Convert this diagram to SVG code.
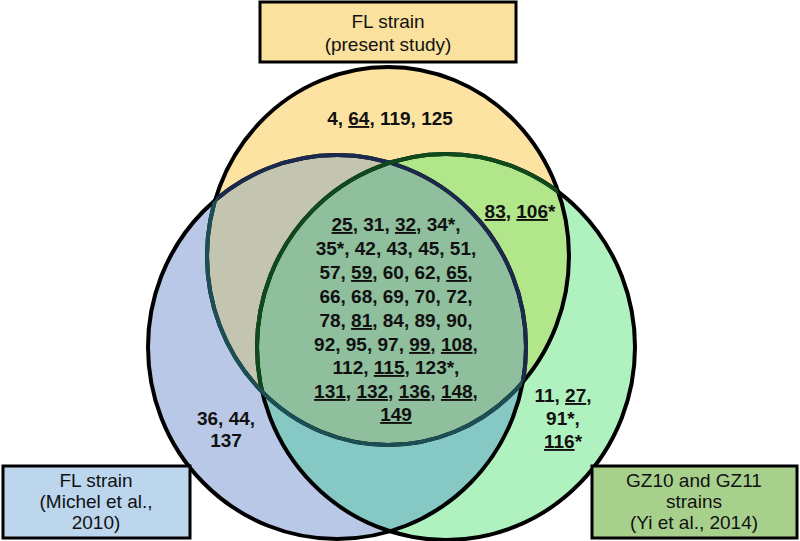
<svg xmlns="http://www.w3.org/2000/svg" width="800" height="541" viewBox="0 0 800 541">
<style>
.n{font-family:"Liberation Sans",Arial,sans-serif;font-weight:bold;font-size:19px;fill:#111;text-anchor:middle}
.l{font-family:"Liberation Sans",Arial,sans-serif;font-size:19px;fill:#111;text-anchor:middle}
.u{text-decoration:underline}
.o{fill:none;stroke:#000;stroke-width:4}
.b{stroke:#000;stroke-width:3}
</style>
<defs>
<ellipse id="eT" cx="388" cy="256" rx="181" ry="189"/>
<ellipse id="eL" cx="337" cy="347" rx="189" ry="192"/>
<ellipse id="eR" cx="446" cy="347" rx="189" ry="193"/>
<clipPath id="cT"><use href="#eT"/></clipPath>
<clipPath id="cL"><use href="#eL"/></clipPath>
<clipPath id="cR"><use href="#eR"/></clipPath>
</defs>
<rect width="800" height="541" fill="#fff"/>
<g id="circles">
<use href="#eT" fill="#fce3a2"/>
<use href="#eL" fill="#b9c8e7"/>
<use href="#eR" fill="#b0f2bf"/>
<use href="#eL" fill="#c3c5b0" clip-path="url(#cT)"/>
<use href="#eR" fill="#b2e68b" clip-path="url(#cT)"/>
<use href="#eR" fill="#86c8c3" clip-path="url(#cL)"/>
<g clip-path="url(#cT)"><use href="#eR" fill="#8fbf9d" clip-path="url(#cL)"/></g>
<use href="#eT" class="o"/>
<use href="#eL" class="o"/>
<use href="#eR" class="o"/>
<use href="#eL" class="o" style="stroke:#1b2a4c" clip-path="url(#cT)"/>
<use href="#eR" class="o" style="stroke:#0e4a1c" clip-path="url(#cT)"/>
<use href="#eT" class="o" style="stroke:#1c4f55" clip-path="url(#cL)"/>
</g>
<g id="box-top"><rect class="b" x="260" y="2" width="256" height="60" fill="#fbe19e"/>
<text class="l" x="388" y="28">FL strain</text><text class="l" x="388" y="51">(present study)</text></g>
<g id="box-left"><rect class="b" x="3" y="466" width="187" height="72" fill="#bcd6ee"/>
<text class="l" x="96" y="487">FL strain</text><text class="l" x="96" y="508">(Michel et al.,</text><text class="l" x="96" y="529">2010)</text></g>
<g id="box-right"><rect class="b" x="592" y="466" width="205" height="72" fill="#a8d08d"/>
<text class="l" x="694" y="487">GZ10 and GZ11</text><text class="l" x="694" y="508">strains</text><text class="l" x="694" y="529">(Yi et al., 2014)</text></g>
<g id="labels">
<text class="n" x="390" y="125">4, <tspan class="u">64</tspan>, 119, 125</text>
<text class="n" x="520" y="218"><tspan class="u">83</tspan>, <tspan class="u">106</tspan>*</text>
<text class="n" x="396" y="231"><tspan class="u">25</tspan>, 31, <tspan class="u">32</tspan>, 34*,</text>
<text class="n" x="396" y="255">35*, 42, 43, 45, 51,</text>
<text class="n" x="396" y="279">57, <tspan class="u">59</tspan>, 60, 62, <tspan class="u">65</tspan>,</text>
<text class="n" x="396" y="303">66, 68, 69, 70, 72,</text>
<text class="n" x="396" y="327">78, <tspan class="u">81</tspan>, 84, 89, 90,</text>
<text class="n" x="396" y="351">92, 95, 97, <tspan class="u">99</tspan>, <tspan class="u">108</tspan>,</text>
<text class="n" x="396" y="374">112, <tspan class="u">115</tspan>, 123*,</text>
<text class="n" x="396" y="398"><tspan class="u">131</tspan>, <tspan class="u">132</tspan>, <tspan class="u">136</tspan>, <tspan class="u">148</tspan>,</text>
<text class="n" x="396" y="421"><tspan class="u">149</tspan></text>
<text class="n" x="226" y="425">36, 44,</text>
<text class="n" x="226" y="447">137</text>
<text class="n" x="563" y="402">11, <tspan class="u">27</tspan>,</text>
<text class="n" x="563" y="425">91*,</text>
<text class="n" x="563" y="448"><tspan class="u">116</tspan>*</text>
</g>
</svg>
